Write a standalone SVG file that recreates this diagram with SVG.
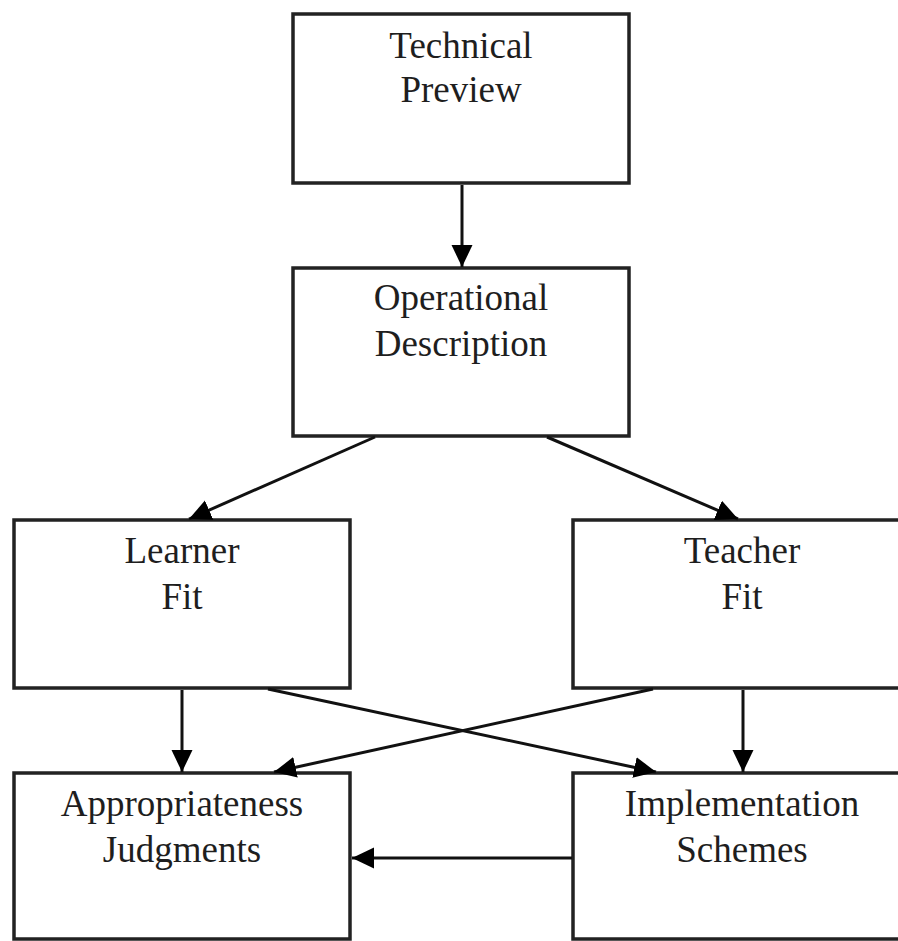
<svg xmlns="http://www.w3.org/2000/svg" width="898" height="941" viewBox="0 0 898 941">
<style>
.box{fill:#fff;stroke:#222;stroke-width:3.5}
.lbl{font-family:"Liberation Serif","Times New Roman",serif;font-size:37px;fill:#1e1e1e;text-anchor:middle}
.edge{stroke:#111;stroke-width:3;fill:none;marker-end:url(#ah)}
</style>
<defs>
<marker id="ah" markerUnits="userSpaceOnUse" markerWidth="24" markerHeight="22" refX="22" refY="10.5" orient="auto" viewBox="0 0 24 22">
<path d="M0,0 L22,10.5 L0,21 Z" fill="#000"/>
</marker>
</defs>
<rect width="898" height="941" fill="#fff"/>
<g id="technical-preview">
<rect class="box" x="293" y="14" width="336" height="169"/>
<text class="lbl" x="461" y="58">Technical</text>
<text class="lbl" x="461" y="102">Preview</text>
</g>
<g id="operational-description">
<rect class="box" x="293" y="268" width="336" height="168"/>
<text class="lbl" x="461" y="310">Operational</text>
<text class="lbl" x="461" y="356">Description</text>
</g>
<g id="learner-fit">
<rect class="box" x="14" y="520" width="336" height="168"/>
<text class="lbl" x="182" y="563">Learner</text>
<text class="lbl" x="182" y="609">Fit</text>
</g>
<g id="teacher-fit">
<rect class="box" x="573" y="520" width="338" height="168"/>
<text class="lbl" x="742" y="563">Teacher</text>
<text class="lbl" x="742" y="609">Fit</text>
</g>
<g id="appropriateness-judgments">
<rect class="box" x="14" y="773" width="336" height="166"/>
<text class="lbl" x="182" y="816">Appropriateness</text>
<text class="lbl" x="182" y="862">Judgments</text>
</g>
<g id="implementation-schemes">
<rect class="box" x="573" y="773" width="338" height="166"/>
<text class="lbl" x="742" y="816">Implementation</text>
<text class="lbl" x="742" y="862">Schemes</text>
</g>
<g id="connectors">
<line class="edge" x1="462" y1="185" x2="462" y2="267"/>
<line class="edge" x1="375" y1="437" x2="189" y2="519"/>
<line class="edge" x1="547" y1="437" x2="738" y2="519"/>
<line class="edge" x1="182" y1="690" x2="182" y2="772"/>
<line class="edge" x1="743" y1="690" x2="743" y2="772"/>
<line class="edge" x1="268" y1="689" x2="656" y2="772"/>
<line class="edge" x1="653" y1="689" x2="274" y2="772"/>
<line class="edge" x1="572" y1="858" x2="352" y2="858"/>
</g>
</svg>
